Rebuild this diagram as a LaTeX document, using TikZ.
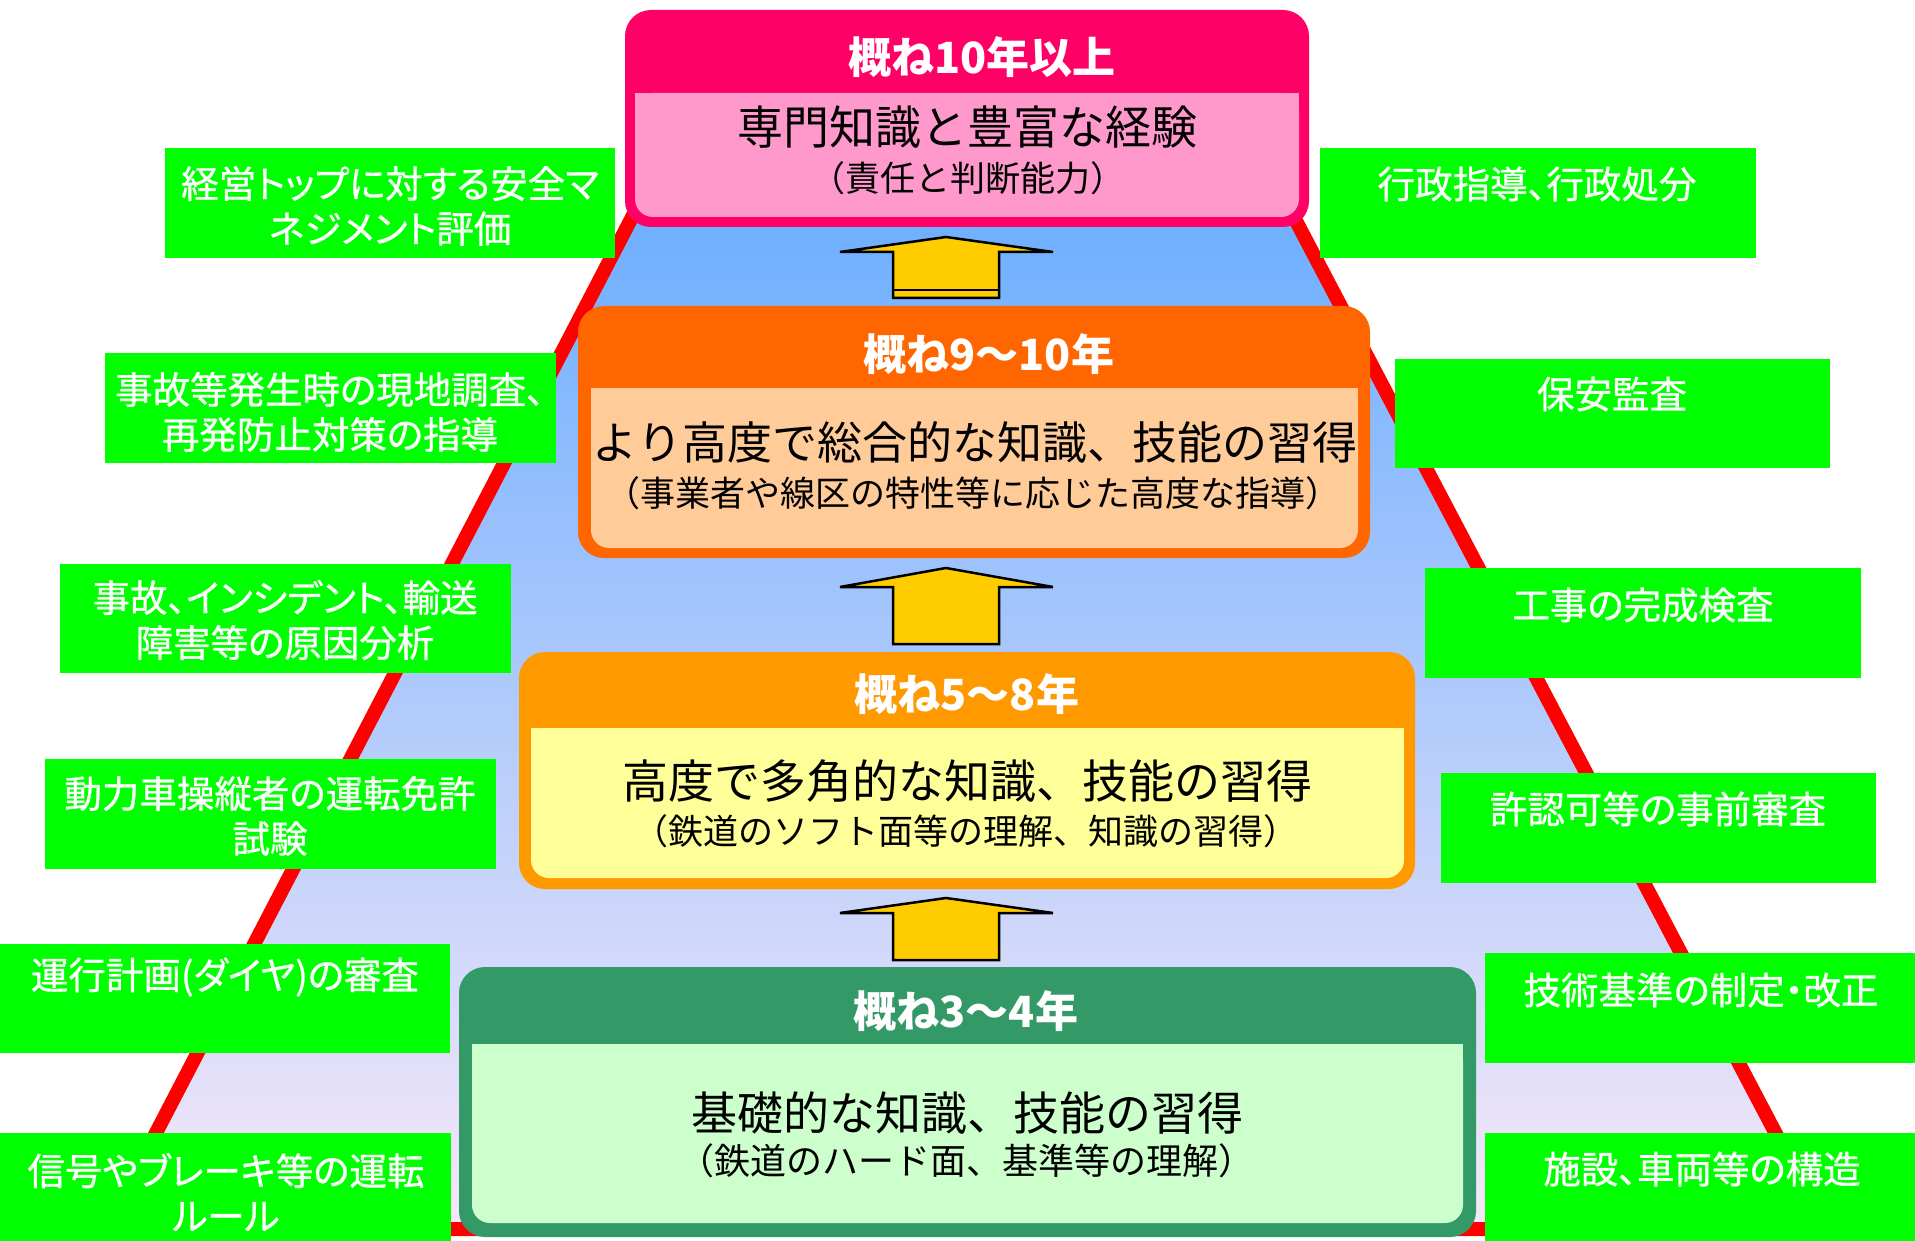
\documentclass[tikz,border=0pt]{standalone}
\usepackage{fontspec}
\newfontfamily\jp{Noto Sans CJK JP}
\newfontfamily\jpp[RawFeature=+palt]{Noto Sans CJK JP}
\newfontfamily\jpl[RawFeature=+palt,FakeBold=0.8]{Noto Sans CJK JP}
\definecolor{pinkB}{HTML}{FF0066}
\definecolor{pinkF}{HTML}{FF99CC}
\definecolor{orgB}{HTML}{FF6600}
\definecolor{orgF}{HTML}{FFCC99}
\definecolor{yorB}{HTML}{FF9900}
\definecolor{yorF}{HTML}{FFFF99}
\definecolor{grnB}{HTML}{339966}
\definecolor{grnF}{HTML}{CCFFCC}
\definecolor{labG}{HTML}{00FF00}
\definecolor{arw}{HTML}{FFCC00}
\definecolor{tTop}{RGB}{108,174,255}
\definecolor{tMid}{RGB}{176,204,244}
\definecolor{tBot}{RGB}{247,232,248}
\begin{document}
\begin{tikzpicture}[x=1pt,y=-1pt,
  labbox/.style={fill=labG, draw=none, inner sep=0pt, outer sep=0pt, anchor=north west},
  labtxt/.style={text=white, font=\jpl\fontsize{37.5}{45}\selectfont, align=center, inner sep=0pt},
  hdr/.style={text=white, font=\jpp\bfseries\fontsize{43}{50}\selectfont, inner sep=0pt},
  maintxt/.style={text=black, font=\jp\fontsize{46}{54}\selectfont, inner sep=0pt},
  subtxt/.style={text=black, font=\jp\fontsize{35}{42}\selectfont, inner sep=0pt},
  tier/.style={draw=none, rounded corners=26pt, inner sep=0pt, outer sep=0pt, anchor=north west},
  blockarrow/.style={fill=arw, draw=black, line width=2.5pt, line join=miter}
]
\useasboundingbox (0,0) rectangle (1915,1241);
\fill[white] (0,0) rectangle (1915,1241);

% pyramid
\shade[top color=tTop, middle color=tMid, bottom color=tBot] (641,200) -- (106,1229) -- (1826,1229) -- (1285,200) -- cycle;
\draw[red, line width=14pt] (641,200) -- (106,1229) -- (1826,1229) -- (1285,200);

% arrows
\draw[blockarrow] (946,237) -- (1053,252) -- (999,252) -- (999,298) -- (893,298) -- (893,252) -- (840,252) -- cycle;
\draw[black, line width=2.5pt] (893,290) -- (999,290);
\draw[blockarrow] (946,568) -- (1053,587) -- (999,587) -- (999,644) -- (893,644) -- (893,587) -- (840,587) -- cycle;
\draw[blockarrow] (946,898) -- (1053,913) -- (999,913) -- (999,960) -- (893,960) -- (893,913) -- (840,913) -- cycle;

% tier A
\node[tier, fill=pinkB, minimum width=684pt, minimum height=217pt] (boxA) at (625,10) {};
\fill[pinkF, rounded corners=18pt] (635,93) rectangle (1299,217);
\fill[pinkF] (635,93) rectangle (1299,150);
\node[hdr] (hA) at (982,57) {概ね10年以上};
\node[maintxt] (mA) at (967,127) {専門知識と豊富な経験};
\node[subtxt] (sA) at (968,178) {（責任と判断能力）};

% tier B
\node[tier, fill=orgB, minimum width=792pt, minimum height=252pt] (boxB) at (578,306) {};
\fill[orgF, rounded corners=18pt] (591,388) rectangle (1358,548);
\fill[orgF] (591,388) rectangle (1358,450);
\node[hdr] (hB) at (989,354) {概ね9～10年};
\node[maintxt, font=\jp\fontsize{45}{54}\selectfont] (mB) at (975,442) {より高度で総合的な知識、技能の習得};
\node[subtxt] (sB) at (973,493) {（事業者や線区の特性等に応じた高度な指導）};

% tier C
\node[tier, fill=yorB, minimum width=896pt, minimum height=237pt] (boxC) at (519,652) {};
\fill[yorF, rounded corners=18pt] (531,728) rectangle (1404,878);
\fill[yorF] (531,728) rectangle (1404,790);
\node[hdr] (hC) at (967,694) {概ね5～8年};
\node[maintxt] (mC) at (967,781) {高度で多角的な知識、技能の習得};
\node[subtxt] (sC) at (966,831) {（鉄道のソフト面等の理解、知識の習得）};

% tier D
\node[tier, fill=grnB, minimum width=1017pt, minimum height=270pt] (boxD) at (459,967) {};
\fill[grnF, rounded corners=18pt] (472,1044) rectangle (1463,1223);
\fill[grnF] (472,1044) rectangle (1463,1120);
\node[hdr] (hD) at (966,1011) {概ね3～4年};
\node[maintxt] (mD) at (967,1113) {基礎的な知識、技能の習得};
\node[subtxt, font=\jp\fontsize{36}{42}\selectfont] (sD) at (966,1161) {（鉄道のハード面、基準等の理解）};

% left labels
\node[labbox, minimum width=450pt, minimum height=110pt] (L1) at (165,148) {};
\node[labtxt] (L1t) at (390,206) {経営トップに対する安全マ\\ネジメント評価};
\node[labbox, minimum width=451pt, minimum height=110pt] (L2) at (105,353) {};
\node[labtxt] (L2t) at (330,412) {事故等発生時の現地調査、\\再発防止対策の指導};
\node[labbox, minimum width=451pt, minimum height=109pt] (L3) at (60,564) {};
\node[labtxt] (L3t) at (285,620) {事故、インシデント、輸送\\障害等の原因分析};
\node[labbox, minimum width=451pt, minimum height=110pt] (L4) at (45,759) {};
\node[labtxt] (L4t) at (270,816) {動力車操縦者の運転免許\\試験};
\node[labbox, minimum width=450pt, minimum height=109pt] (L5) at (0,944) {};
\node[labtxt] (L5t) at (225,977) {運行計画(ダイヤ)の審査};
\node[labbox, minimum width=451pt, minimum height=108pt] (L6) at (0,1133) {};
\node[labtxt] (L6t) at (226,1192) {信号やブレーキ等の運転\\ルール};

% right labels
\node[labbox, minimum width=436pt, minimum height=110pt] (R1) at (1320,148) {};
\node[labtxt] (R1t) at (1537,184) {行政指導、行政処分};
\node[labbox, minimum width=435pt, minimum height=109pt] (R2) at (1395,359) {};
\node[labtxt] (R2t) at (1612,394) {保安監査};
\node[labbox, minimum width=436pt, minimum height=110pt] (R3) at (1425,568) {};
\node[labtxt] (R3t) at (1643,605) {工事の完成検査};
\node[labbox, minimum width=435pt, minimum height=110pt] (R4) at (1441,773) {};
\node[labtxt] (R4t) at (1658,809) {許認可等の事前審査};
\node[labbox, minimum width=430pt, minimum height=110pt] (R5) at (1485,953) {};
\node[labtxt] (R5t) at (1701,990) {技術基準の制定・改正};
\node[labbox, minimum width=430pt, minimum height=108pt] (R6) at (1485,1133) {};
\node[labtxt] (R6t) at (1702,1169) {施設、車両等の構造};
\end{tikzpicture}
\end{document}
